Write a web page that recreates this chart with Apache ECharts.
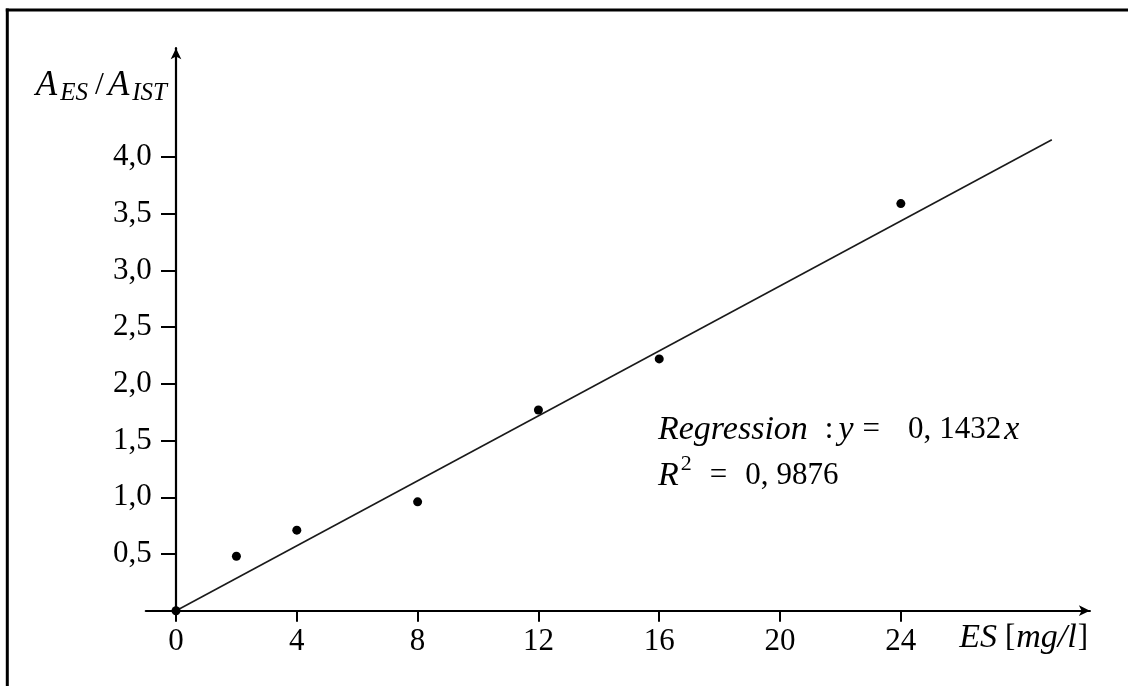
<!DOCTYPE html>
<html>
<head>
<meta charset="utf-8">
<title>ES calibration</title>
<script src="https://cdn.jsdelivr.net/npm/echarts@6.0.0/dist/echarts.min.js"></script>
<style>
  html, body { margin: 0; padding: 0; background: #fff; overflow: hidden; }
  #chart { width: 1128px; height: 686px; }
</style>
</head>
<body>
<div id="chart"></div>
<script>
// Calibration points: ES concentration [mg/l] vs. area ratio A_ES / A_IST
const concentrations = [0, 2, 4, 8, 12, 16, 24];
const areaRatios = [0, 0.48, 0.71, 0.96, 1.77, 2.22, 3.59];

// Regression through the origin, as stated in the annotation
const regressionSlope = 0.1432;
const regressionR2 = 0.9876;
const regressionRange = [0, 29];

// Tick positions
const xTicks = [0, 4, 8, 12, 16, 20, 24];
const yTicks = [0.5, 1.0, 1.5, 2.0, 2.5, 3.0, 3.5, 4.0];

const FONT = 'Liberation Serif';
const tickLabel = v => v.toFixed(1).replace('.', ',');
// German decimal comma, split like a math-mode "0, 1432"
const mathNumber = v => String(v).split('.');

const scatterData = concentrations.map((c, i) => [c, areaRatios[i]]);
const lineData = regressionRange.map(x => [x, regressionSlope * x]);
const [slopeInt, slopeFrac] = mathNumber(regressionSlope);
const [r2Int, r2Frac] = mathNumber(regressionR2);

const chart = echarts.init(document.getElementById('chart'), null, { renderer: 'canvas' });

const LH = 46;
const mathRich = {
  it: { fontFamily: FONT, fontStyle: 'italic', fontSize: 34, color: '#000', lineHeight: LH },
  rm: { fontFamily: FONT, fontSize: 31, color: '#000', lineHeight: LH },
  colon: { fontFamily: FONT, fontSize: 31, color: '#000', lineHeight: LH, padding: [0, 5, 0, 17] },
  eq1: { fontFamily: FONT, fontSize: 31, color: '#000', lineHeight: LH, padding: [0, 28, 0, 9] },
  eq2: { fontFamily: FONT, fontSize: 31, color: '#000', lineHeight: LH, padding: [0, 18, 0, 18] },
  frac: { fontFamily: FONT, fontSize: 31, color: '#000', lineHeight: LH, padding: [0, 0, 0, 8] },
  var: { fontFamily: FONT, fontStyle: 'italic', fontSize: 34, color: '#000', lineHeight: LH, padding: [0, 0, 0, 3] },
  sup: { fontFamily: FONT, fontSize: 22, color: '#000', lineHeight: 26, verticalAlign: 'top', padding: [0, 0, 0, 2] }
};

chart.setOption({
  backgroundColor: '#fff',
  animation: false,
  grid: { left: 145.8, right: 38.1, top: 48.2, bottom: 75.3, containLabel: false },
  xAxis: {
    type: 'value',
    min: -1,
    max: 30.26,
    axisLine: {
      onZero: true,
      symbol: ['none', 'arrow'],
      symbolSize: [8, 11],
      lineStyle: { color: '#000', width: 2.2 }
    },
    axisTick: {
      show: true,
      customValues: xTicks,
      length: 11,
      lineStyle: { color: '#000', width: 2 }
    },
    axisLabel: {
      customValues: xTicks,
      margin: 16,
      fontFamily: FONT,
      fontSize: 31,
      color: '#000',
      formatter: v => String(v)
    },
    splitLine: { show: false }
  },
  yAxis: {
    type: 'value',
    min: 0,
    max: 4.96,
    axisLine: {
      onZero: true,
      symbol: ['none', 'arrow'],
      symbolSize: [8, 11],
      lineStyle: { color: '#000', width: 2.2 }
    },
    axisTick: {
      show: true,
      customValues: yTicks,
      length: 15,
      lineStyle: { color: '#000', width: 2 }
    },
    axisLabel: {
      customValues: yTicks,
      margin: -6,
      fontFamily: FONT,
      fontSize: 31,
      color: '#000',
      formatter: v => tickLabel(v)
    },
    splitLine: { show: false }
  },
  series: [
    {
      name: 'Regression',
      type: 'line',
      data: lineData,
      showSymbol: false,
      symbol: 'none',
      lineStyle: { color: '#1a1a1a', width: 1.6 },
      z: 2
    },
    {
      name: 'Messwerte',
      type: 'scatter',
      data: scatterData,
      symbol: 'circle',
      symbolSize: 9,
      itemStyle: { color: '#000', opacity: 1 },
      z: 3
    }
  ],
  graphic: [
    {
      // frame: left edge
      type: 'line',
      shape: { x1: 7.3, y1: 8.5, x2: 7.3, y2: 700 },
      style: { stroke: '#000', lineWidth: 3 },
      silent: true
    },
    {
      // frame: top edge
      type: 'line',
      shape: { x1: 5.8, y1: 10, x2: 1140, y2: 10 },
      style: { stroke: '#000', lineWidth: 3 },
      silent: true
    },
    {
      // y-axis title A_ES / A_IST
      type: 'text',
      x: 168,
      y: 65.6,
      style: {
        text: '{A|A}{s|ES}{r|/}{A|A}{s2|IST}',
        align: 'right',
        verticalAlign: 'top',
        rich: {
          A: { fontFamily: FONT, fontStyle: 'italic', fontSize: 35, color: '#000', lineHeight: 40 },
          r: { fontFamily: FONT, fontSize: 32, color: '#000', lineHeight: 40, padding: [0, 4, 0, 4] },
          s: { fontFamily: FONT, fontStyle: 'italic', fontSize: 25, color: '#000', lineHeight: 30, verticalAlign: 'bottom', padding: [0, 3, 0, 3] },
          s2: { fontFamily: FONT, fontStyle: 'italic', fontSize: 25, color: '#000', lineHeight: 30, verticalAlign: 'bottom', padding: [0, 1, 0, 3] }
        }
      }
    },
    {
      // x-axis title ES [mg/l]
      type: 'text',
      x: 1088,
      y: 617.6,
      style: {
        text: '{it|ES}{lb|[}{it|mg/l}{rb|]}',
        align: 'right',
        verticalAlign: 'top',
        rich: {
          it: { fontFamily: FONT, fontStyle: 'italic', fontSize: 34, color: '#000', lineHeight: 40 },
          lb: { fontFamily: FONT, fontSize: 31, color: '#000', lineHeight: 40, padding: [0, 1, 0, 8] },
          rb: { fontFamily: FONT, fontSize: 31, color: '#000', lineHeight: 40, padding: [0, 0, 0, 1] }
        }
      }
    },
    {
      // regression annotation
      type: 'text',
      x: 658,
      y: 407,
      style: {
        text: '{it|Regression}{colon|:}{it|y}{eq1|=}{rm|' + slopeInt + ',}{frac|' + slopeFrac + '}{var|x}\n' +
              '{it|R}{sup|2}{eq2|=}{rm|' + r2Int + ',}{frac|' + r2Frac + '}',
        align: 'left',
        verticalAlign: 'top',
        rich: mathRich
      }
    }
  ]
});
</script>
</body>
</html>
